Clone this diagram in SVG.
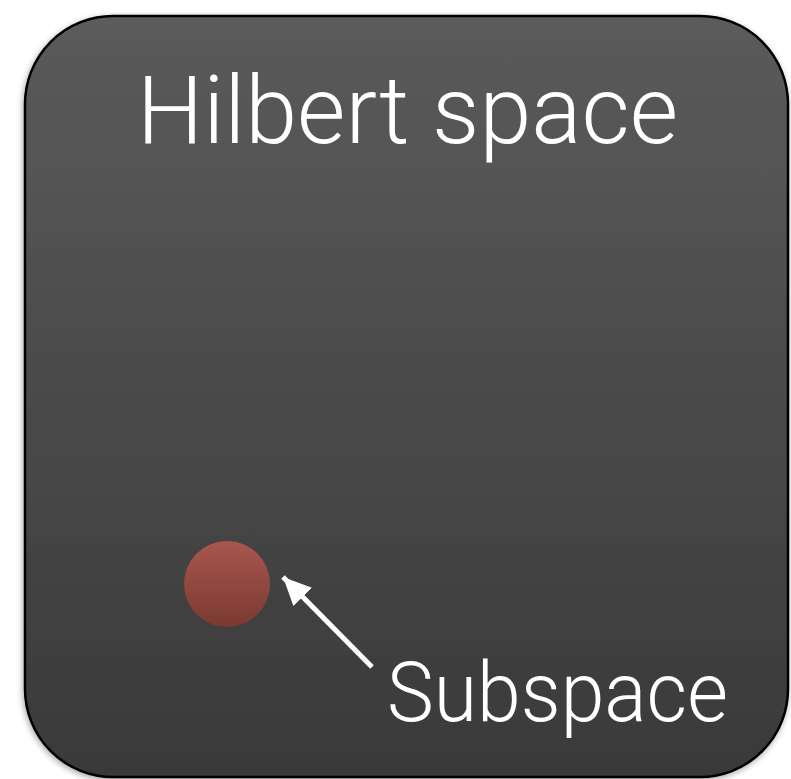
<svg xmlns="http://www.w3.org/2000/svg" width="791" height="779" viewBox="0 0 791 779">
  <defs>
    <linearGradient id="bg" x1="0" y1="0" x2="0" y2="1">
      <stop offset="0" stop-color="#5b5b5b"/>
      <stop offset="1" stop-color="#393939"/>
    </linearGradient>
    <linearGradient id="red" x1="0" y1="0" x2="0" y2="1">
      <stop offset="0" stop-color="#a9574d"/>
      <stop offset="1" stop-color="#7a3932"/>
    </linearGradient>
    <filter id="shadow" x="-5%" y="-5%" width="110%" height="110%">
      <feGaussianBlur in="SourceAlpha" stdDeviation="3"/>
      <feOffset dx="-1" dy="2"/>
      <feComponentTransfer><feFuncA type="linear" slope="0.35"/></feComponentTransfer>
      <feMerge><feMergeNode/><feMergeNode in="SourceGraphic"/></feMerge>
    </filter>
    <marker id="arrowhead" markerUnits="userSpaceOnUse" markerWidth="32" markerHeight="32" refX="28" refY="13" orient="auto">
      <path d="M0,0 L28,13 L0,26 Z" fill="#ffffff"/>
    </marker>
  </defs>
  <style>
    .label { font-family: Roboto, "Liberation Sans", Arial, sans-serif; font-weight: 300; fill: #ffffff; }
  </style>
  <rect width="791" height="779" fill="#ffffff"/>
  <g id="hilbert-space">
    <rect x="25" y="16" width="763" height="761" rx="88" ry="88" fill="url(#bg)" stroke="#000000" stroke-width="2.5" filter="url(#shadow)"/>
    <text class="label" x="137" y="143" font-size="95" textLength="541" lengthAdjust="spacingAndGlyphs">Hilbert space</text>
  </g>
  <g id="subspace">
    <circle cx="227" cy="584" r="43" fill="url(#red)"/>
  </g>
  <g id="subspace-label">
    <text class="label" x="387" y="721" font-size="83" textLength="341" lengthAdjust="spacingAndGlyphs">Subspace</text>
  </g>
  <g id="connectors">
    <line x1="372" y1="667" x2="283" y2="577" stroke="#ffffff" stroke-width="5" marker-end="url(#arrowhead)"/>
  </g>
</svg>
